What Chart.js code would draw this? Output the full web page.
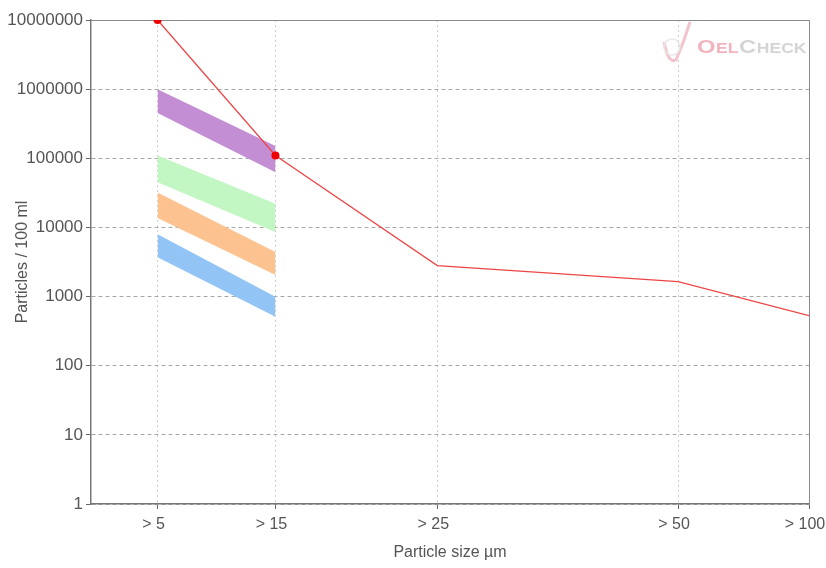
<!DOCTYPE html>
<html><head><meta charset="utf-8">
<script src="https://cdn.jsdelivr.net/npm/chart.js@4"></script>
<style>html,body{margin:0;padding:0;background:#fff;overflow:hidden}</style>
</head><body>
<canvas id="c" width="826" height="568"></canvas>
<script>
// ---- data ----
const categories = ['> 5', '> 15', '> 25', '> 50', '> 100'];
const categoryPositions = [9.27, 25.69, 48.23, 81.77, 100];
const particleCounts = [10000000, 110000, 2800, 1650, 530];
const markerRadius = [4, 4, 0, 0, 0];
const yTicks = [1, 10, 100, 1000, 10000, 100000, 1000000, 10000000];

const bandPositions = [9.27, 25.69];
const purpleUpper = [1000000, 150000];
const purpleLower = [450000, 63000];
const greenUpper = [110000, 22000];
const greenLower = [45000, 8600];
const orangeUpper = [32000, 4400];
const orangeLower = [13700, 2050];
const blueUpper = [8000, 990];
const blueLower = [3700, 510];

const FONT = 'Liberation Sans, Arial, sans-serif';

function pts(xs, ys) { return xs.map((x, i) => ({ x: x, y: ys[i] })); }

function bandPair(lower, upper, color) {
  return [
    { data: pts(bandPositions, lower), borderColor: 'transparent', borderWidth: 0, pointRadius: 0, fill: false },
    { data: pts(bandPositions, upper), borderColor: 'transparent', borderWidth: 0, pointRadius: 0, fill: '-1', backgroundColor: color }
  ];
}

const frame = {
  id: 'frame',
  beforeDatasetsDraw(chart) {
    const { ctx, chartArea: a } = chart;
    ctx.save();
    // watermark
    ctx.textBaseline = 'alphabetic';
    ctx.save();
    ctx.translate(697, 53);
    ctx.scale(1.25, 1);
    let x = 0;
    const parts = [['O', 19, '#f1b3be'], ['EL', 14, '#f1b3be'], ['C', 19, '#d4d4d4'], ['HECK', 14, '#d4d4d4']];
    parts.forEach(p => {
      ctx.font = 'bold ' + p[1] + 'px ' + FONT;
      ctx.fillStyle = p[2];
      ctx.fillText(p[0], x, 0);
      x += ctx.measureText(p[0]).width + 0.5;
    });
    ctx.restore();
    // logo swoosh
    ctx.strokeStyle = '#f4c4cc';
    ctx.lineWidth = 3;
    ctx.beginPath();
    ctx.moveTo(664, 42);
    ctx.quadraticCurveTo(668, 64, 676, 60);
    ctx.quadraticCurveTo(684, 42, 690, 22);
    ctx.stroke();
    ctx.lineWidth = 1.5;
    ctx.strokeStyle = '#e8e8e8';
    ctx.beginPath();
    ctx.arc(672, 47, 8, 0, Math.PI * 2);
    ctx.stroke();
    // top and right border
    ctx.strokeStyle = '#8a8a8a';
    ctx.lineWidth = 1;
    ctx.beginPath();
    ctx.moveTo(a.left, a.top + 0.5);
    ctx.lineTo(a.right + 0.5, a.top + 0.5);
    ctx.lineTo(a.right + 0.5, a.bottom);
    ctx.stroke();
    ctx.restore();
  }
};

const datasets = [
  {
    data: pts(categoryPositions, particleCounts),
    borderColor: 'rgb(238,70,70)',
    borderWidth: 1.3,
    pointRadius: markerRadius,
    pointBackgroundColor: '#ee0000',
    pointBorderWidth: 0,
    fill: false,
    tension: 0
  },
  ...bandPair(purpleLower, purpleUpper, '#c38ed3'),
  ...bandPair(greenLower, greenUpper, '#c2f6c2'),
  ...bandPair(orangeLower, orangeUpper, '#fcc391'),
  ...bandPair(blueLower, blueUpper, '#92c4f6')
];

new Chart(document.getElementById('c'), {
  type: 'line',
  data: { datasets: datasets },
  plugins: [frame],
  options: {
    responsive: false,
    animation: false,
    devicePixelRatio: 1,
    layout: { padding: { top: 20, right: 17, left: 0, bottom: 0 } },
    plugins: { legend: { display: false }, tooltip: { enabled: false } },
    scales: {
      x: {
        type: 'linear',
        min: 0,
        max: 100,
        afterBuildTicks: s => { s.ticks = categoryPositions.map(v => ({ value: v })); },
        afterFit: s => { s.height = 64; s.paddingLeft = 0; s.paddingRight = 0; },
        ticks: {
          autoSkip: false,
          maxRotation: 0,
          padding: 6,
          labelOffset: -4,
          color: '#555',
          font: { family: FONT, size: 16 },
          callback: v => categories[categoryPositions.indexOf(v)]
        },
        grid: { color: '#cfcfcf', lineWidth: 1, tickLength: 5, tickColor: '#666', tickBorderDash: [] },
        border: { display: true, color: '#777', width: 1.5, dash: [2, 3] },
        title: { display: true, text: 'Particle size µm', color: '#555', font: { family: FONT, size: 16 }, padding: { top: 0, bottom: 6 } }
      },
      y: {
        type: 'logarithmic',
        min: 1,
        max: 10000000,
        afterBuildTicks: s => { s.ticks = yTicks.map(v => ({ value: v })); },
        afterFit: s => { s.width = 91; },
        ticks: {
          autoSkip: false,
          padding: 3,
          color: '#555',
          font: { family: FONT, size: 17 },
          callback: v => String(v)
        },
        grid: { color: '#a8a8a8', lineWidth: 1, tickLength: 5, tickColor: '#666', tickBorderDash: [] },
        border: { display: true, color: '#777', width: 1.5, dash: [4, 3] },
        title: { display: true, text: 'Particles / 100 ml', color: '#555', font: { family: FONT, size: 16 }, padding: { top: 13, bottom: 0 } }
      }
    }
  }
});
</script>
</body></html>
